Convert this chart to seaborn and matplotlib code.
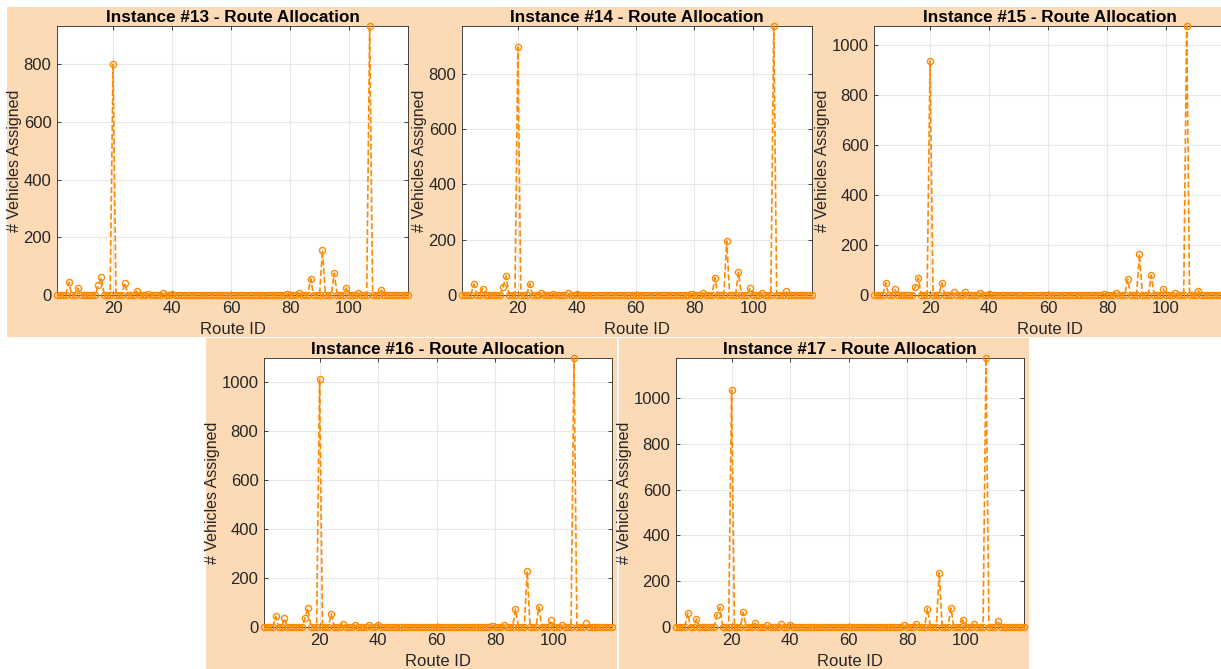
import numpy as np
import pandas as pd
import matplotlib
matplotlib.use("Agg")
import matplotlib.pyplot as plt
from matplotlib.patches import Rectangle
import seaborn as sns

# ---- data ----
n_routes = 120
active_routes = [5, 8, 15, 16, 20, 24, 28, 32, 37, 40, 79, 83, 87, 91, 95, 99, 103, 107, 111]
inst13 = [44, 24, 35, 61, 800, 42, 13, 3, 7, 3, 5, 6, 57, 156, 76, 24, 6, 932, 17]
inst14 = [39, 23, 30, 69, 895, 41, 8, 4, 6, 3, 3, 7, 63, 195, 82, 25, 7, 972, 16]
inst15 = [49, 25, 33, 69, 937, 48, 11, 11, 7, 3, 4, 8, 64, 164, 79, 25, 7, 1077, 17]
inst16 = [43, 35, 35, 77, 1012, 54, 14, 7, 8, 7, 5, 7, 73, 227, 83, 27, 7, 1096, 15]
inst17 = [61, 35, 51, 86, 1033, 65, 16, 7, 12, 7, 10, 13, 80, 237, 83, 32, 12, 1174, 28]
instance_names = [13, 14, 15, 16, 17]
instance_values = [inst13, inst14, inst15, inst16, inst17]
x_ticks = [20, 40, 60, 80, 100]

sns.set_theme(style="white")
plt.rcParams["font.family"] = ["Liberation Sans", "DejaVu Sans"]

W, H = 1221, 669
fig = plt.figure(figsize=(W / 100, H / 100), dpi=100)
fig.patch.set_facecolor("white")

peach = "#FDDAB6"
orange = "#FF8A00"

# panel backgrounds (left, top, right, bottom in pixels)
panels = [(7, 7, 410, 337), (410, 7, 815, 337), (815, 7, 1221, 337),
          (206, 338, 617, 669), (619, 338, 1029, 669)]
for (l, t, r, b) in panels:
    fig.add_artist(Rectangle((l / W, 1 - b / H), (r - l) / W, (b - t) / H,
                             transform=fig.transFigure, facecolor=peach,
                             edgecolor="none", zorder=0))

# axes boxes (left, top, width, height in pixels)
boxes = [(57, 26, 351, 269), (462, 26, 350, 269), (874, 26, 351, 269),
         (264, 358, 348, 269), (676, 358, 348, 269)]

routes = np.arange(1, n_routes + 1)
for name, vals, (l, t, w, h) in zip(instance_names, instance_values, boxes):
    ax = fig.add_axes([l / W, 1 - (t + h) / H, w / W, h / H])
    y = np.zeros(n_routes)
    y[np.array(active_routes) - 1] = vals
    df = pd.DataFrame({"Route ID": routes, "Vehicles": y})
    sns.lineplot(data=df, x="Route ID", y="Vehicles", ax=ax, color=orange,
                 linestyle="--", linewidth=1.2, marker="o", markersize=4.4,
                 markerfacecolor="none", markeredgecolor=orange,
                 markeredgewidth=1.0, clip_on=False, zorder=3)
    ax.set_facecolor("white")
    ax.set_xlim(1, n_routes)
    ax.set_ylim(0, max(vals))
    ax.set_xticks(x_ticks)
    ax.set_yticks(np.arange(0, max(vals) + 1, 200))
    ax.grid(True, color="#E8E8E8", linewidth=0.8)
    ax.set_axisbelow(True)
    for s in ax.spines.values():
        s.set_color("#262626")
        s.set_linewidth(0.6)
    ax.tick_params(direction="in", length=3, width=0.6, colors="#262626",
                   labelsize=12, pad=4, top=True, right=True,
                   bottom=True, left=True, labeltop=False, labelright=False)
    ax.set_title(f"Instance #{name} - Route Allocation", fontsize=12.3,
                 fontweight="bold", color="black", pad=3)
    ax.set_xlabel("Route ID", fontsize=12, color="#262626", labelpad=5)
    ax.set_ylabel("# Vehicles Assigned", fontsize=11.5, color="#262626", labelpad=1)

fig.savefig("out.png", dpi=100, facecolor="white")
